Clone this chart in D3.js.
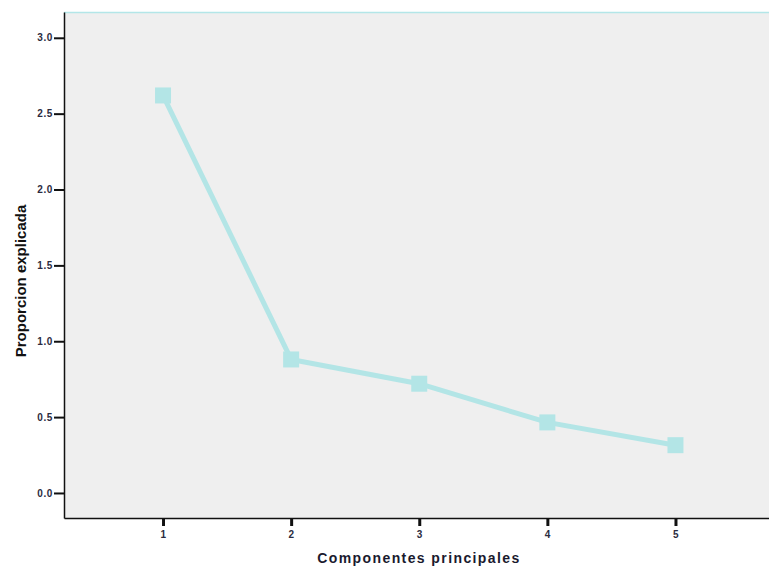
<!DOCTYPE html>
<html>
<head>
<meta charset="UTF-8">
<title>Componentes principales</title>
<script src="https://cdn.jsdelivr.net/npm/d3@7"></script>
<style>
    body { margin: 0; background: #fff; }
    svg { display: block; }
    .tick text { font-family: "Liberation Sans", Arial, sans-serif; font-weight: bold; font-size: 10px; letter-spacing: 0.6px; fill: #2b2b40; }
</style>
</head>
<body>
<script>
    // datos
    var componentes = [1, 2, 3, 4, 5];
    var proporcion = [2.62, 0.88, 0.72, 0.465, 0.315];
    var yTicks = [0, 0.5, 1.0, 1.5, 2.0, 2.5, 3.0];

    var width = 769, height = 566;
    var mLeft = 64, mTop = 12, mRight = 769, mBottom = 518;

    var svg = d3.select("body").append("svg")
        .attr("width", width)
        .attr("height", height);

    var x = d3.scaleLinear().domain([0.227, 5.73]).range([mLeft, mRight]);
    var y = d3.scaleLinear().domain([-0.165, 3.17]).range([mBottom, mTop]);

    // fondo
    svg.append("rect")
        .attr("x", mLeft).attr("y", mTop)
        .attr("width", mRight - mLeft).attr("height", mBottom - mTop)
        .attr("fill", "#efefef");

    // linea superior
    svg.append("line")
        .attr("x1", mLeft).attr("x2", mRight)
        .attr("y1", mTop + 0.5).attr("y2", mTop + 0.5)
        .attr("stroke", "#b3e6e8").attr("stroke-width", 1.5);

    // ejes
    var yAxis = svg.append("g")
        .attr("transform", "translate(" + mLeft + ",0)")
        .call(d3.axisLeft(y).tickValues(yTicks).tickFormat(d3.format(".1f")).tickSize(10).tickPadding(1).tickSizeOuter(0));
    yAxis.select(".domain").attr("stroke", "#111").attr("stroke-width", 1.5);
    yAxis.selectAll(".tick line").attr("stroke", "#111").attr("stroke-width", 2);

    var xAxis = svg.append("g")
        .attr("transform", "translate(0," + mBottom + ")")
        .call(d3.axisBottom(x).tickValues(componentes).tickFormat(d3.format("d")).tickSize(8).tickPadding(5).tickSizeOuter(0));
    xAxis.select(".domain").attr("stroke", "#111").attr("stroke-width", 1.5);
    xAxis.selectAll(".tick line").attr("stroke", "#111").attr("stroke-width", 3);

    // linea de datos
    var pts = componentes.map(function (c, i) { return [c, proporcion[i]]; });
    svg.append("path")
        .datum(pts)
        .attr("fill", "none")
        .attr("stroke", "#b3e5e6")
        .attr("stroke-width", 5)
        .attr("d", d3.line().x(function (d) { return x(d[0]); }).y(function (d) { return y(d[1]); }));

    // marcadores
    svg.selectAll(".marker")
        .data(pts)
        .enter()
        .append("rect")
        .attr("class", "marker")
        .attr("x", function (d) { return x(d[0]) - 8; })
        .attr("y", function (d) { return y(d[1]) - 8; })
        .attr("width", 16).attr("height", 16)
        .attr("fill", "#b3e5e6");

    // titulos
    svg.append("text")
        .attr("transform", "translate(26,281) rotate(-90)")
        .attr("text-anchor", "middle")
        .style("font-family", "'Liberation Sans Narrow', 'Liberation Sans', sans-serif")
        .style("font-weight", "bold")
        .style("font-size", "15px")
        .attr("fill", "#111")
        .text("Proporcion explicada");

    svg.append("text")
        .attr("x", 419).attr("y", 563)
        .attr("text-anchor", "middle")
        .style("font-family", "'Liberation Sans', Arial, sans-serif")
        .style("font-weight", "bold")
        .style("font-size", "14px")
        .style("letter-spacing", "1.4px")
        .attr("fill", "#1a1a2e")
        .text("Componentes principales");
</script>
</body>
</html>
